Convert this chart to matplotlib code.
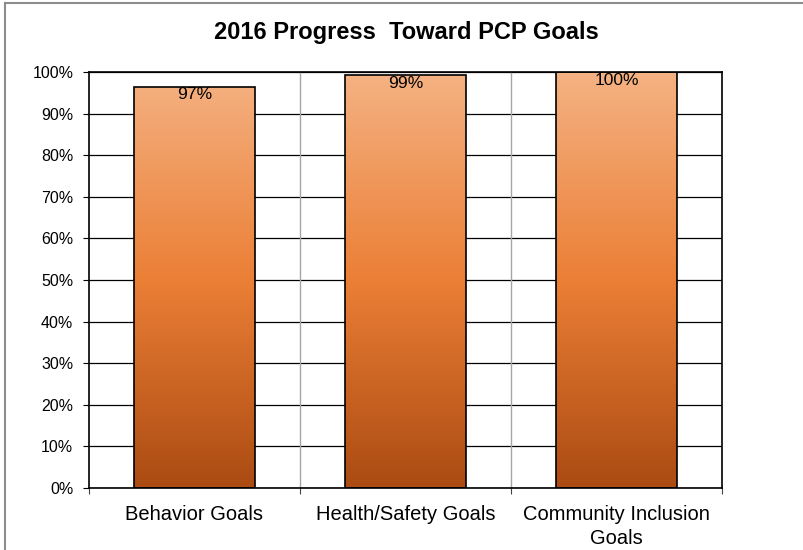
import matplotlib
matplotlib.use("Agg")
import matplotlib.pyplot as plt
import numpy as np
from matplotlib.colors import LinearSegmentedColormap
from matplotlib.lines import Line2D

categories = ["Behavior Goals", "Health/Safety Goals", "Community Inclusion\nGoals"]
values = [96.5, 99.2, 99.9]
labels = ["97%", "99%", "100%"]
yticks = [0, 10, 20, 30, 40, 50, 60, 70, 80, 90, 100]
title = "2016 Progress  Toward PCP Goals"

plt.rcParams['font.family'] = ['Liberation Sans', 'DejaVu Sans']

fig = plt.figure(figsize=(8.04, 5.5), dpi=100)
ax = fig.add_axes([89/804, 1-488/550, (722-89)/804, (488-72)/550])

# outer frame lines
fig.add_artist(Line2D([5/804, 1.0], [1-3/550, 1-3/550], color='#8c8c8c', lw=1.5, transform=fig.transFigure))
fig.add_artist(Line2D([5/804, 5/804], [0, 1-3/550], color='#8c8c8c', lw=1.5, transform=fig.transFigure))

cmap = LinearSegmentedColormap.from_list(
    'grad', [(0.0, '#AB4B12'), (0.5, '#EB7F36'), (1.0, '#F5B283')])

n = len(categories)
x = np.arange(n)
width = 0.57
ax.set_xlim(-0.5, n - 0.5)
ax.set_ylim(0, 100)

grad = np.linspace(0, 1, 256).reshape(-1, 1)
for xi, v, lab in zip(x, values, labels):
    bars = ax.bar(xi, v, width=width, color='none', edgecolor='black', linewidth=1.2, zorder=3)
    patch = bars[0]
    im = ax.imshow(grad, cmap=cmap, origin='lower', aspect='auto',
                   extent=[xi - width/2, xi + width/2, 0, 100], zorder=2)
    im.set_clip_path(patch)
    ax.text(xi, v - 0.2, lab, ha='center', va='top', fontsize=12.6, zorder=4)

ax.set_yticks(yticks)
ax.set_yticklabels([f"{t}%" for t in yticks], fontsize=11.5)
ax.yaxis.grid(True, color='black', linewidth=0.9, zorder=1)
ax.set_axisbelow(True)

# category boundaries ticks and vertical gridlines
ax.set_xticks(np.arange(-0.5, n, 1.0))
ax.set_xticklabels([])
ax.set_xticks(x, minor=True)
ax.set_xticklabels(categories, minor=True, fontsize=14.5, linespacing=1.3)
ax.tick_params(axis='x', which='minor', length=0, pad=12.5)
ax.tick_params(axis='x', which='major', length=4.3, color='#444444')
ax.tick_params(axis='y', length=4.3, pad=7)
for b in np.arange(0.5, n - 0.5, 1.0):
    ax.axvline(b, color='#a6a6a6', linewidth=1.0, zorder=1)

for s in ax.spines.values():
    s.set_color('black')
    s.set_linewidth(1.2)

fig.text(406/804, 1-33/550, title, ha='center', va='center', fontsize=17, fontweight='bold')

fig.savefig("out.png", dpi=100)
